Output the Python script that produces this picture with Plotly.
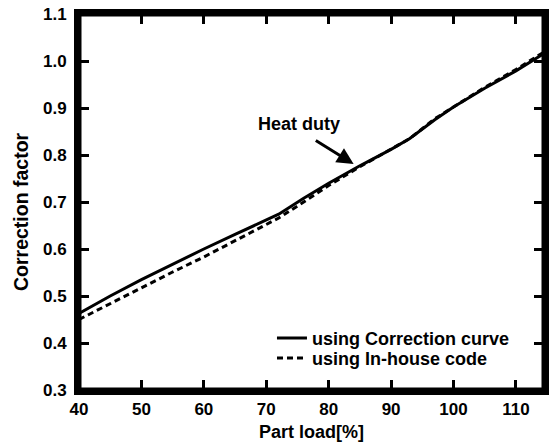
import plotly.graph_objects as go

part_load = [40, 45, 50, 55, 60, 65, 70, 72, 76, 80, 85, 90, 93, 97, 100, 105, 110, 114.5]
corr_curve = [0.463, 0.500, 0.535, 0.568, 0.600, 0.631, 0.662, 0.674, 0.708, 0.740, 0.777, 0.812, 0.835, 0.875, 0.902, 0.942, 0.979, 1.016]
inhouse = [0.450, 0.484, 0.518, 0.551, 0.583, 0.617, 0.652, 0.666, 0.700, 0.735, 0.775, 0.812, 0.835, 0.877, 0.902, 0.944, 0.982, 1.019]

x_ticks = [40, 50, 60, 70, 80, 90, 100, 110]
x_labels = ["40", "50", "60", "70", "80", "90", "100", "110"]
y_ticks = [0.3, 0.4, 0.5, 0.6, 0.7, 0.8, 0.9, 1.0, 1.1]
y_labels = ["0.3", "0.4", "0.5", "0.6", "0.7", "0.8", "0.9", "1.0", "1.1"]

FONT = "Liberation Sans"

def b(s):
    return "<b>" + s + "</b>"

fig = go.Figure()
fig.add_trace(go.Scatter(x=part_load, y=corr_curve, mode="lines",
                         name=b("using Correction curve"), legend="legend",
                         line=dict(color="black", width=3)))
fig.add_trace(go.Scatter(x=part_load, y=inhouse, mode="lines",
                         name=b("using In-house code"), legend="legend2",
                         line=dict(color="black", width=3, dash="6px,4px")))

fig.add_annotation(x=84.0, y=0.781, ax=77.7, ay=0.833, axref="x", ayref="y",
                   xref="x", yref="y", text="", showarrow=True,
                   arrowhead=2, arrowsize=1.1, arrowwidth=3, arrowcolor="black")
fig.add_annotation(x=75.2, y=0.865, xref="x", yref="y", text=b("Heat duty"),
                   showarrow=False, font=dict(family=FONT, size=18, color="black"))

fig.add_annotation(x=-58 / 470, y=0.475, xref="paper", yref="paper", xanchor="center", yanchor="middle",
                   text=b("Correction factor"), textangle=-90, showarrow=False,
                   font=dict(family=FONT, size=19.5, color="black"))

fig.add_shape(type="rect", xref="paper", yref="paper", x0=0, y0=0, x1=1, y1=1,
              line=dict(color="black", width=5), layer="above")

axis_common = dict(showline=True, linecolor="black", linewidth=5, mirror="ticks",
                   ticks="inside", ticklen=10, tickwidth=3, tickcolor="black",
                   showgrid=False, zeroline=False,
                   tickfont=dict(family=FONT, size=17, color="black"))

leg_common = dict(xanchor="left", yanchor="middle", bgcolor="rgba(0,0,0,0)", borderwidth=0,
                  font=dict(family=FONT, size=18, color="black"), itemwidth=30)

fig.update_layout(
    width=552, height=443,
    margin=dict(l=79, r=3, t=14, b=51),
    paper_bgcolor="white", plot_bgcolor="white",
    showlegend=True,
    legend=dict(x=0.415, y=0.1375, **leg_common),
    legend2=dict(x=0.415, y=0.0846, **leg_common),
    xaxis=dict(range=[40, 114.5], tickvals=x_ticks, ticktext=[b(t) for t in x_labels],
               title=dict(text=b("Part load[%]"), standoff=8,
                          font=dict(family=FONT, size=18, color="black")),
               **axis_common),
    yaxis=dict(range=[0.3, 1.1], tickvals=y_ticks, ticktext=[b(t) for t in y_labels],
               ticklabelstandoff=4,
               **axis_common),
)

fig.write_html("out.html")
